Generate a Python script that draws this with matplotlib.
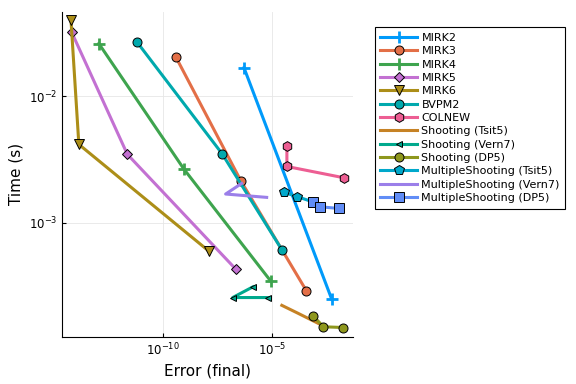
import matplotlib
matplotlib.use("Agg")
import matplotlib.pyplot as plt
from matplotlib.ticker import FixedLocator, NullLocator, LogFormatterSciNotation

# error (final) and time (s) for each solver
mirk2_err = [5.1e-7, 5.1e-3]
mirk2_time = [1.68e-2, 2.49e-4]
mirk3_err = [3.9e-10, 3.7e-7, 3.5e-4]
mirk3_time = [2.06e-2, 2.14e-3, 2.92e-4]
mirk4_err = [1.23e-13, 9.3e-10, 8.5e-6]
mirk4_time = [2.61e-2, 2.66e-3, 3.46e-4]
mirk5_err = [7.1e-15, 2.45e-12, 2.14e-7]
mirk5_time = [3.21e-2, 3.48e-3, 4.31e-4]
mirk6_err = [6.6e-15, 1.51e-14, 1.29e-8]
mirk6_time = [4.02e-2, 4.17e-3, 5.97e-4]
bvpm2_err = [6.9e-12, 5.1e-8, 2.75e-5]
bvpm2_time = [2.67e-2, 3.52e-3, 6.11e-4]
colnew_err = [4.6e-5, 4.6e-5, 1.86e-2]
colnew_time = [4.02e-3, 2.79e-3, 2.27e-3]
sh_tsit5_err = [2.7e-5, 1.48e-4, 1.86e-3]
sh_tsit5_time = [2.23e-4, 1.93e-4, 1.55e-4]
sh_vern7_err = [1.29e-6, 1.55e-7, 6.6e-6]
sh_vern7_time = [3.12e-4, 2.57e-4, 2.57e-4]
sh_dp5_err = [7.4e-4, 2.14e-3, 1.62e-2]
sh_dp5_time = [1.83e-4, 1.51e-4, 1.49e-4]
ms_tsit5_err = [3.4e-5, 1.38e-4, 7.4e-4]
ms_tsit5_time = [1.74e-3, 1.61e-3, 1.46e-3]
ms_vern7_err = [4.0e-7, 7.4e-8, 5.5e-6]
ms_vern7_time = [2.05e-3, 1.69e-3, 1.59e-3]
ms_dp5_err = [7.4e-4, 1.51e-3, 1.07e-2]
ms_dp5_time = [1.46e-3, 1.34e-3, 1.30e-3]

x_ticks = [1e-10, 1e-5]
y_ticks = [1e-3, 1e-2]

fig = plt.figure(figsize=(5.76, 3.84), dpi=100)
ax = fig.add_axes([0.108, 0.123, 0.505, 0.847])

lw = 2.2
ms = 6.5
edge = dict(markeredgecolor="black", markeredgewidth=0.7)

ax.plot(mirk2_err, mirk2_time, color="#009AFA", lw=lw, marker="+", ms=8, mew=2.0, label="MIRK2")
ax.plot(mirk3_err, mirk3_time, color="#E36F47", lw=lw, marker="o", ms=ms, label="MIRK3", **edge)
ax.plot(mirk4_err, mirk4_time, color="#3EA44E", lw=lw, marker="+", ms=8, mew=2.0, label="MIRK4")
ax.plot(mirk5_err, mirk5_time, color="#C371D2", lw=lw, marker="D", ms=5, label="MIRK5", **edge)
ax.plot(mirk6_err, mirk6_time, color="#AC8E18", lw=lw, marker="v", ms=7, label="MIRK6", **edge)
ax.plot(bvpm2_err, bvpm2_time, color="#00A9AD", lw=lw, marker="o", ms=ms, label="BVPM2", **edge)
ax.plot(colnew_err, colnew_time, color="#ED5E93", lw=lw, marker="h", ms=7, label="COLNEW", **edge)
ax.plot(sh_tsit5_err, sh_tsit5_time, color="#C68225", lw=lw, label="Shooting (Tsit5)")
ax.plot(sh_vern7_err, sh_vern7_time, color="#00A98D", lw=lw, marker="<", ms=4, label="Shooting (Vern7)", **edge)
ax.plot(sh_dp5_err, sh_dp5_time, color="#8E971D", lw=lw, marker="o", ms=ms, label="Shooting (DP5)", **edge)
ax.plot(ms_tsit5_err, ms_tsit5_time, color="#00A8CB", lw=lw, marker="p", ms=7, label="MultipleShooting (Tsit5)", **edge)
ax.plot(ms_vern7_err, ms_vern7_time, color="#9B7FE9", lw=lw, label="MultipleShooting (Vern7)")
ax.plot(ms_dp5_err, ms_dp5_time, color="#618DF6", lw=lw, marker="s", ms=7, label="MultipleShooting (DP5)", **edge)

ax.set_xscale("log")
ax.set_yscale("log")
ax.set_xlim(10**-14.58, 10**-1.32)
ax.set_ylim(10**-3.90, 10**-1.33)
ax.xaxis.set_major_locator(FixedLocator(x_ticks))
ax.yaxis.set_major_locator(FixedLocator(y_ticks))
ax.xaxis.set_minor_locator(NullLocator())
ax.yaxis.set_minor_locator(NullLocator())
ax.xaxis.set_major_formatter(LogFormatterSciNotation())
ax.yaxis.set_major_formatter(LogFormatterSciNotation())

ax.grid(True, color="#e6e6e6", lw=0.6)
ax.set_axisbelow(True)
for s in ["top", "right"]:
    ax.spines[s].set_visible(False)
ax.tick_params(direction="in", length=3, width=0.8, labelsize=8.5)

ax.set_xlabel("Error (final)", fontsize=11)
ax.set_ylabel("Time (s)", fontsize=11)

leg = ax.legend(loc="upper left", bbox_to_anchor=(0.641, 0.943), bbox_transform=fig.transFigure,
                fontsize=8, fancybox=False, edgecolor="black", framealpha=1,
                handlelength=3.3, labelspacing=0.3, borderpad=0.5, handletextpad=0.4)
leg.get_frame().set_linewidth(0.8)

fig.savefig("out.png", dpi=100)
